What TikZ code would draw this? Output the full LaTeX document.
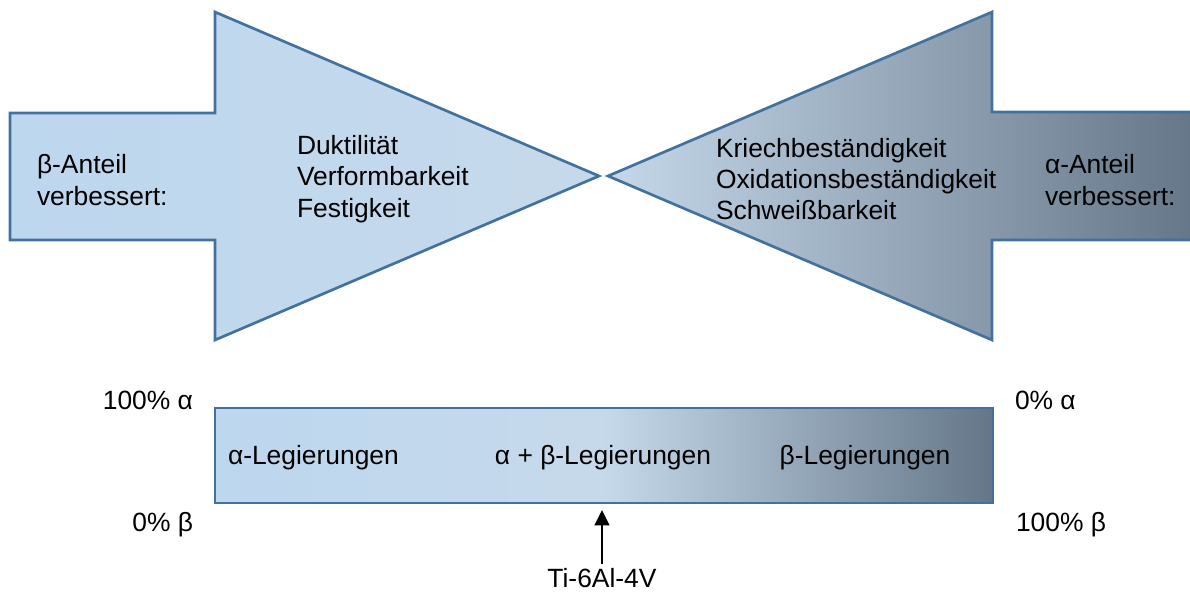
\documentclass[tikz,border=0pt]{standalone}
\usepackage{fontspec}
\setmainfont{Liberation Sans}
\usetikzlibrary{arrows.meta}

\definecolor{edge}{HTML}{41719C}
\definecolor{shadeA}{HTML}{BDD7EE}
\definecolor{shadeB}{HTML}{C6D9EB}
\definecolor{shadeC}{HTML}{647688}
\pgfdeclarehorizontalshading{alloyshade}{100bp}{%
  color(0bp)=(shadeA); color(25bp)=(shadeA); color(50bp)=(shadeB);
  color(75bp)=(shadeC); color(100bp)=(shadeC)}

\begin{document}
\begin{tikzpicture}[x=0.75pt, y=-0.75pt,
  font=\fontsize{19.8}{23.5}\selectfont,
  outline/.style={draw=edge, line width=2pt, line join=miter},
  txt/.style={inner sep=0pt, outer sep=0pt, align=left},
  barbox/.style={outline, shading=alloyshade, inner sep=0pt, outer sep=0pt,
    minimum width=583.5pt, minimum height=71.25pt},
  pointer/.style={line width=1.6pt, -{Triangle[length=11.5pt, width=11pt]}}]
\useasboundingbox (0,0) rectangle (1190,592);

% the two opposing arrows share one shading
\shade[shading=alloyshade]
  (10,113) -- (215,113) -- (215,12) -- (599,176) -- (215,340) -- (215,240) -- (10,240) -- cycle
  (1196,112) -- (992,112) -- (992,12) -- (608,176) -- (992,340) -- (992,240) -- (1196,240) -- cycle;
\draw[outline]
  (10,113) -- (215,113) -- (215,12) -- (599,176) -- (215,340) -- (215,240) -- (10,240) -- cycle;
\draw[outline]
  (1196,112) -- (992,112) -- (992,12) -- (608,176) -- (992,340) -- (992,240) -- (1196,240);

% arrow texts
\node[txt, anchor=west] (betaimp) at (37,180) {β-Anteil\\verbessert:};
\node[txt, anchor=west] (betaprops) at (297,179) {Duktilität\\Verformbarkeit\\Festigkeit};
\node[txt, anchor=west] (alphaprops) at (716,179) {Kriechbeständigkeit\\Oxidationsbeständigkeit\\Schweißbarkeit};
\node[txt, anchor=west] (alphaimp) at (1045,180) {α-Anteil\\verbessert:};

% alloy scale bar
\node[barbox] (bar) at (604,455.5) {};
\node[txt, anchor=west] (alphaalloy) at (228,458) {α-Legierungen};
\node[txt] (mixalloy) at (603,458) {α + β-Legierungen};
\node[txt] (betaalloy) at (865,458) {β-Legierungen};

% composition ends
\node[txt, anchor=east] (lefttop) at (193,400) {100\% α};
\node[txt, anchor=east] (leftbot) at (193,525) {0\% β};
\node[txt, anchor=west] (righttop) at (1015,400) {0\% α};
\node[txt, anchor=west] (rightbot) at (1016,525) {100\% β};

% Ti-6Al-4V marker
\node[txt] (ti) at (602,578) {Ti-6Al-4V};
\coordinate (tip) at (602,510);
\draw[pointer] ([yshift=3pt]ti.north) -- (tip);
\end{tikzpicture}
\end{document}
